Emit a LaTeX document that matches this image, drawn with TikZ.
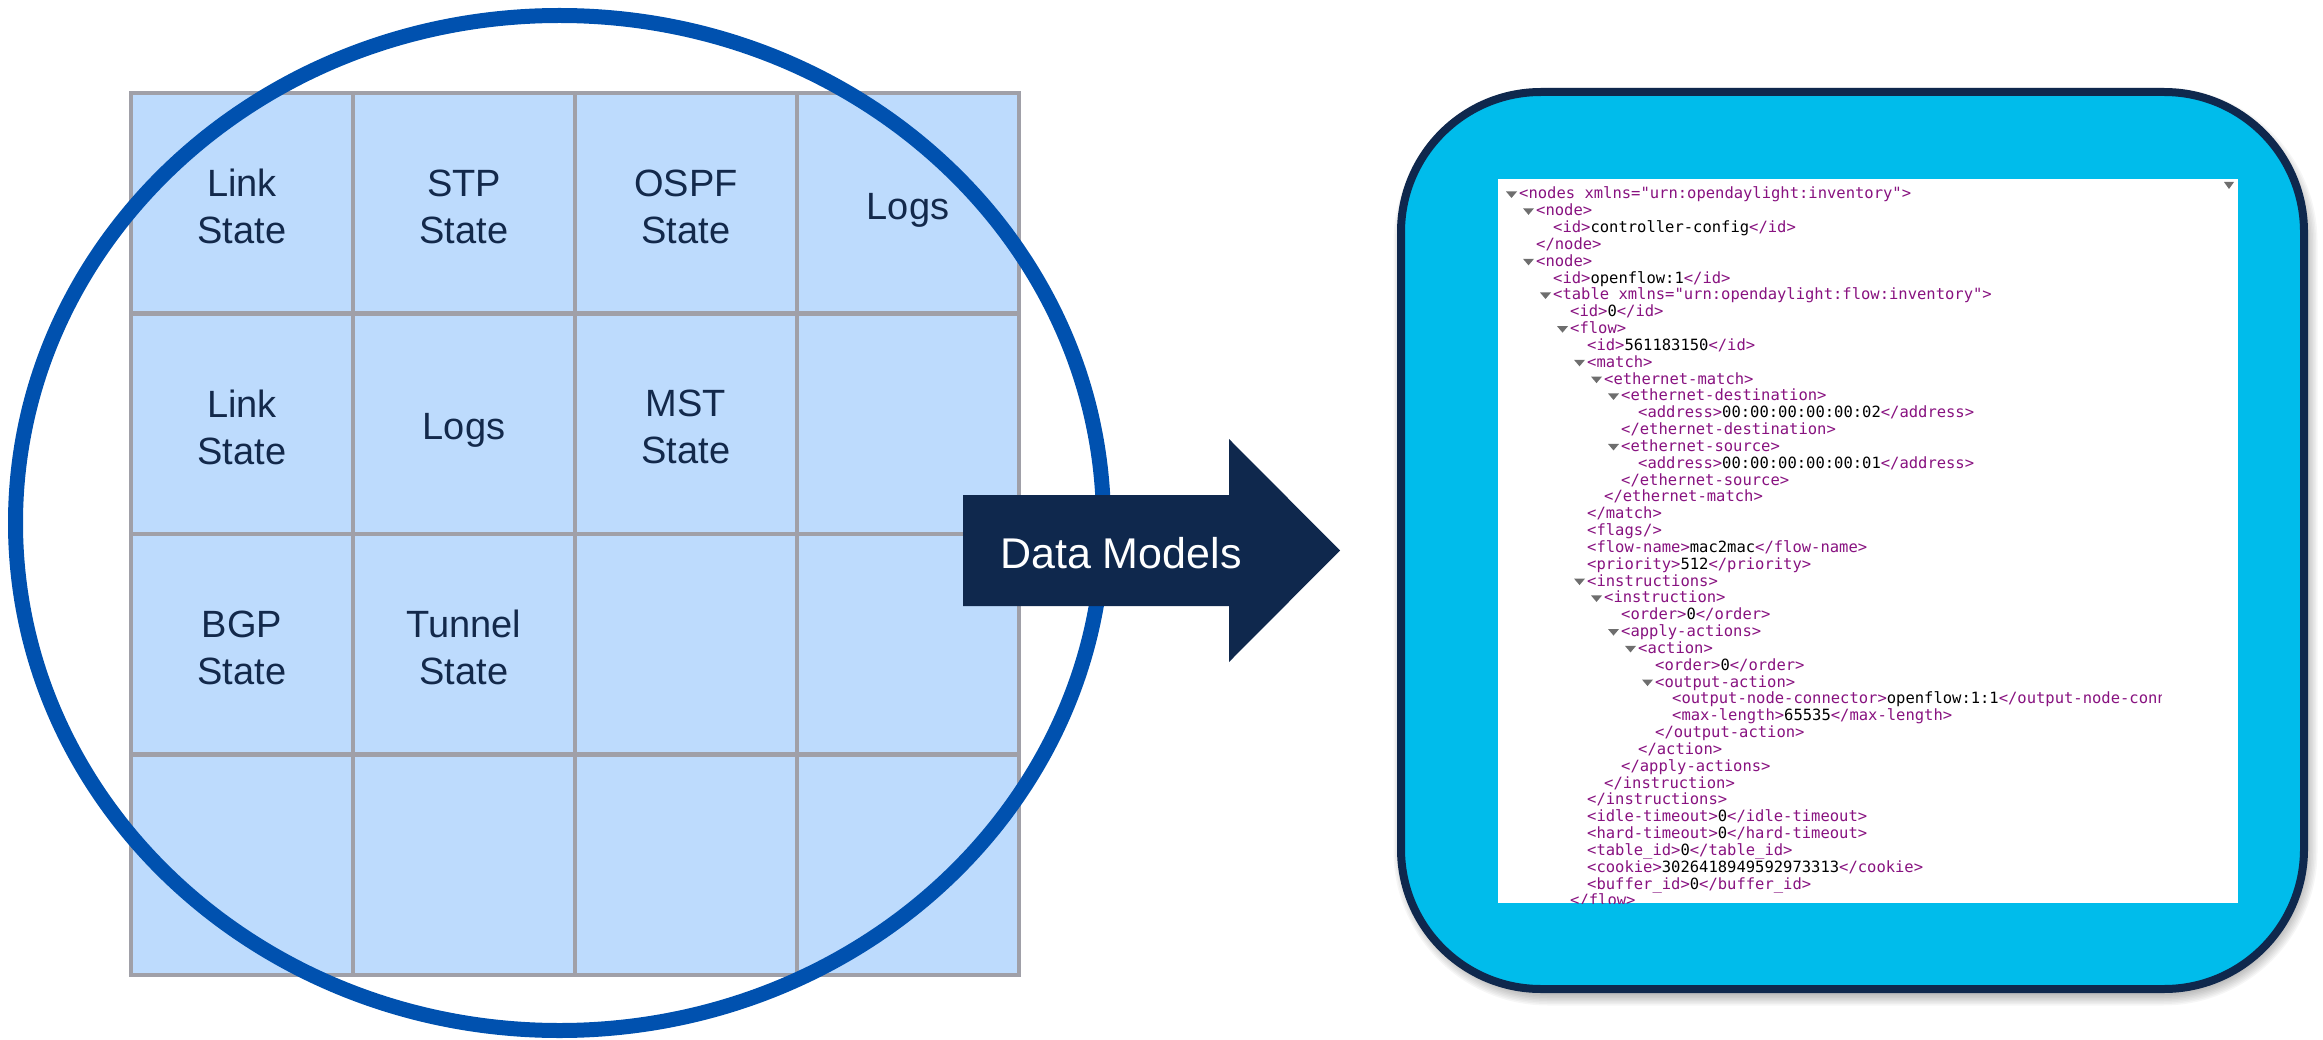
\documentclass[tikz,border=0pt]{standalone}
\usepackage{fontspec}
\setmainfont{Liberation Sans}
\newfontfamily\xmlfont{DejaVu Sans Mono}

\definecolor{cellfill}{RGB}{189,219,253}
\definecolor{cellline}{RGB}{160,160,168}
\definecolor{labeltext}{RGB}{19,41,75}
\definecolor{ringblue}{RGB}{0,81,175}
\definecolor{navy}{RGB}{15,40,77}
\definecolor{panelcyan}{RGB}{0,188,235}
\definecolor{tagpurple}{RGB}{136,18,128}
\definecolor{foldgray}{RGB}{110,110,110}

% XML viewer helpers: tag colouring, one row of text, one fold marker
\newcommand\tg[1]{\textcolor{tagpurple}{#1}}
\newcommand\xmlrow[3]{\node[xmltext] (xl#1) at ({1519+17*#2},{199+16.83*(#1-1)}) {#3};}
\newcommand\xmlfold[2]{\fill[foldgray] ({1519+17*#2-13},{199+16.83*(#1-1)-7.5}) -- ++(11,0) -- ++(-5.5,6.5) -- cycle;}

\begin{document}
\begin{tikzpicture}[x=1pt,y=-1pt,
  cell/.style={draw=cellline, fill=cellfill, line width=4.5pt,
    minimum width=222pt, minimum height=220.5pt, inner sep=0pt},
  celltext/.style={inner sep=0pt, align=center, text=labeltext, text depth=0pt,
    font=\fontsize{38}{47}\selectfont},
  ring/.style={draw=ringblue, line width=15pt},
  panel/.style={draw=navy, fill=panelcyan, line width=8pt,
    rounded corners=140pt, minimum width=903pt, minimum height=897pt, inner sep=0pt},
  xmltext/.style={anchor=base west, inner sep=0pt, text=black,
    font=\xmlfont\fontsize{15.5}{17}\selectfont},
]
\useasboundingbox (0,0) rectangle (2323,1040);

% state grid
\node[cell] (c11) at (242,203.25) {};
\node[cell] (c12) at (464,203.25) {};
\node[cell] (c13) at (686,203.25) {};
\node[cell] (c14) at (908,203.25) {};
\node[cell] (c21) at (242,423.75) {};
\node[cell] (c22) at (464,423.75) {};
\node[cell] (c23) at (686,423.75) {};
\node[cell] (c24) at (908,423.75) {};
\node[cell] (c31) at (242,644.25) {};
\node[cell] (c32) at (464,644.25) {};
\node[cell] (c33) at (686,644.25) {};
\node[cell] (c34) at (908,644.25) {};
\node[cell] (c41) at (242,864.75) {};
\node[cell] (c42) at (464,864.75) {};
\node[cell] (c43) at (686,864.75) {};
\node[cell] (c44) at (908,864.75) {};

% cell labels, set slightly below the cell centres
\node[celltext] (t11) at ([yshift=-3pt]c11.center) {Link\\State};
\node[celltext] (t12) at ([yshift=-3pt]c12.center) {STP\\State};
\node[celltext] (t13) at ([yshift=-3pt]c13.center) {OSPF\\State};
\node[celltext] (t14) at ([yshift=-3pt]c14.center) {Logs};
\node[celltext] (t21) at ([yshift=-3pt]c21.center) {Link\\State};
\node[celltext] (t22) at ([yshift=-3pt]c22.center) {Logs};
\node[celltext] (t23) at ([yshift=-3pt]c23.center) {MST\\State};
\node[celltext] (t31) at ([yshift=-3pt]c31.center) {BGP\\State};
\node[celltext] (t32) at ([yshift=-3pt]c32.center) {Tunnel\\State};

% ring around the grid
\draw[ring] (559.5,523) ellipse [x radius=544, y radius=507.5];

% arrow
\fill[navy] (963,495) -- (1229,495) -- (1229,439) -- (1340,550.5)
  -- (1229,662) -- (1229,606) -- (963,606) -- cycle;
\node[anchor=base west, inner sep=0pt, text=white,
  font=\fontsize{43}{50}\selectfont] (dm) at (1000,568) {Data Models};

% soft shadow under the panel
\foreach \k in {0,...,7}
  \fill[black, opacity=0.035, rounded corners={144pt+1.5pt*\k}]
    ({1855.5-451.5-1.5*\k},{546.5-448.5-1.5*\k}) rectangle
    ({1855.5+451.5+1.5*\k},{546.5+448.5+1.5*\k});

% panel with the XML view
\node[panel] (panel) at (1852.5,540.5) {};
\node[fill=white, anchor=north west, inner sep=0pt,
  minimum width=740pt, minimum height=724pt] (view) at (1498,179) {};
\fill[foldgray] (2224,182) -- (2234,182) -- (2229,189) -- cycle;

\begin{scope}
\clip (1498,179) rectangle (2161,903);
\xmlfold{1}{0}\xmlrow{1}{0}{\tg{<nodes xmlns="urn:opendaylight:inventory">}}
\xmlfold{2}{1}\xmlrow{2}{1}{\tg{<node>}}
\xmlrow{3}{2}{\tg{<id>}controller-config\tg{</id>}}
\xmlrow{4}{1}{\tg{</node>}}
\xmlfold{5}{1}\xmlrow{5}{1}{\tg{<node>}}
\xmlrow{6}{2}{\tg{<id>}openflow:1\tg{</id>}}
\xmlfold{7}{2}\xmlrow{7}{2}{\tg{<table xmlns="urn:opendaylight:flow:inventory">}}
\xmlrow{8}{3}{\tg{<id>}0\tg{</id>}}
\xmlfold{9}{3}\xmlrow{9}{3}{\tg{<flow>}}
\xmlrow{10}{4}{\tg{<id>}561183150\tg{</id>}}
\xmlfold{11}{4}\xmlrow{11}{4}{\tg{<match>}}
\xmlfold{12}{5}\xmlrow{12}{5}{\tg{<ethernet-match>}}
\xmlfold{13}{6}\xmlrow{13}{6}{\tg{<ethernet-destination>}}
\xmlrow{14}{7}{\tg{<address>}00:00:00:00:00:02\tg{</address>}}
\xmlrow{15}{6}{\tg{</ethernet-destination>}}
\xmlfold{16}{6}\xmlrow{16}{6}{\tg{<ethernet-source>}}
\xmlrow{17}{7}{\tg{<address>}00:00:00:00:00:01\tg{</address>}}
\xmlrow{18}{6}{\tg{</ethernet-source>}}
\xmlrow{19}{5}{\tg{</ethernet-match>}}
\xmlrow{20}{4}{\tg{</match>}}
\xmlrow{21}{4}{\tg{<flags/>}}
\xmlrow{22}{4}{\tg{<flow-name>}mac2mac\tg{</flow-name>}}
\xmlrow{23}{4}{\tg{<priority>}512\tg{</priority>}}
\xmlfold{24}{4}\xmlrow{24}{4}{\tg{<instructions>}}
\xmlfold{25}{5}\xmlrow{25}{5}{\tg{<instruction>}}
\xmlrow{26}{6}{\tg{<order>}0\tg{</order>}}
\xmlfold{27}{6}\xmlrow{27}{6}{\tg{<apply-actions>}}
\xmlfold{28}{7}\xmlrow{28}{7}{\tg{<action>}}
\xmlrow{29}{8}{\tg{<order>}0\tg{</order>}}
\xmlfold{30}{8}\xmlrow{30}{8}{\tg{<output-action>}}
\xmlrow{31}{9}{\tg{<output-node-connector>}openflow:1:1\tg{</output-node-connector>}}
\xmlrow{32}{9}{\tg{<max-length>}65535\tg{</max-length>}}
\xmlrow{33}{8}{\tg{</output-action>}}
\xmlrow{34}{7}{\tg{</action>}}
\xmlrow{35}{6}{\tg{</apply-actions>}}
\xmlrow{36}{5}{\tg{</instruction>}}
\xmlrow{37}{4}{\tg{</instructions>}}
\xmlrow{38}{4}{\tg{<idle-timeout>}0\tg{</idle-timeout>}}
\xmlrow{39}{4}{\tg{<hard-timeout>}0\tg{</hard-timeout>}}
\xmlrow{40}{4}{\tg{<table\_id>}0\tg{</table\_id>}}
\xmlrow{41}{4}{\tg{<cookie>}3026418949592973313\tg{</cookie>}}
\xmlrow{42}{4}{\tg{<buffer\_id>}0\tg{</buffer\_id>}}
\xmlrow{43}{3}{\tg{</flow>}}
\end{scope}
\end{tikzpicture}
\end{document}
